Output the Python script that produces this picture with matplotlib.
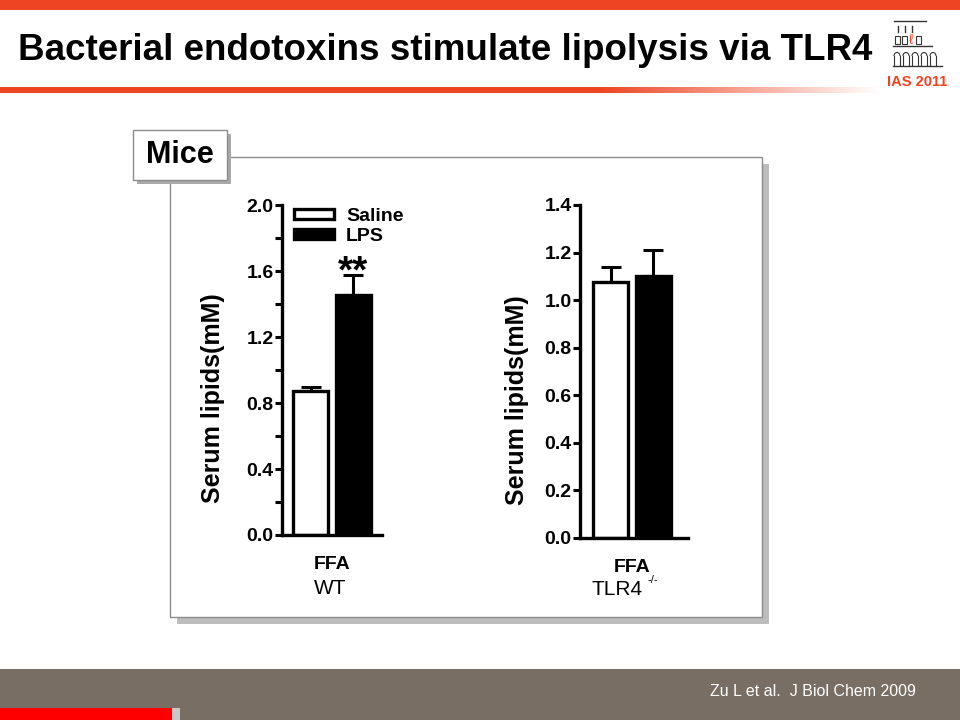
import matplotlib.pyplot as plt
import numpy as np
from matplotlib import font_manager
from matplotlib.patches import Rectangle, Arc
from matplotlib.ticker import MultipleLocator

plt.rcParams['font.family'] = ['Liberation Sans', 'DejaVu Sans']

# values
groups = ['Saline', 'LPS']
wt_mean = [0.875, 1.455]
wt_err = [0.025, 0.12]
tlr4_mean = [1.075, 1.10]
tlr4_err = [0.065, 0.11]
fills = ['white', 'black']

title = 'Bacterial endotoxins stimulate lipolysis via TLR4'
citation = 'Zu L et al.  J Biol Chem 2009'

RED = '#EE4423'
INK = '#333333'

installed = {f.name for f in font_manager.fontManager.ttflist}
has_narrow = 'Liberation Sans Narrow' in installed

fig = plt.figure(figsize=(9.6, 7.2), dpi=100)

# background layer in pixel coordinates for the slide decorations
bg = fig.add_axes([0, 0, 1, 1])
bg.axis('off')

bg.add_patch(Rectangle((0, 0), 960, 10, color=RED, lw=0))
# lower header rule fading out to the right
grad = np.ones((1, 960, 4))
grad[..., 0], grad[..., 1], grad[..., 2] = 0.933, 0.267, 0.137
grad[0, :, 3] = np.clip((880 - np.arange(960)) / 280.0, 0, 1)
bg.imshow(grad, extent=(0, 960, 93, 87), aspect='auto', zorder=1)
bg.set_xlim(0, 960)
bg.set_ylim(720, 0)

bg.text(18, 51, title, fontsize=26.5, fontweight='bold', va='center', ha='left')

# small IAS 2011 logo (building with arches)
bg.plot([894, 926], [21, 21], color=INK, lw=1)
bg.plot([893, 932], [46, 46], color=INK, lw=1)
bg.plot([893, 942], [66, 66], color=INK, lw=1)
for x in [898, 905, 912]:
    bg.plot([x, x], [26, 32], color=INK, lw=1)
for x in [897, 904, 918]:
    bg.add_patch(Rectangle((x - 2.5, 36), 5, 8, fill=False, edgecolor=INK, lw=0.8))
bg.text(911, 40, 'ℓ', color=RED, fontsize=10, ha='center', va='center')
for x in [897, 906, 915, 924, 933]:
    bg.plot([x - 3, x - 3], [56, 65], color=INK, lw=0.8)
    bg.plot([x + 3, x + 3], [56, 65], color=INK, lw=0.8)
    bg.add_patch(Arc((x, 56), 6, 7, theta1=180, theta2=360, color=INK, lw=0.8))
bg.text(917, 82, 'IAS 2011', color=RED, fontsize=10.5, fontweight='bold',
        ha='center', va='center')

# footer
bg.add_patch(Rectangle((0, 669), 960, 51, color='#786E64', lw=0))
bg.add_patch(Rectangle((0, 708), 172, 12, color='#FF0000', lw=0))
bg.add_patch(Rectangle((172, 708), 8, 12, color='#C8C8C8', lw=0))
if has_narrow:
    bg.text(916, 691, citation, color='white', fontsize=13.5, ha='right', va='center',
            family=['Liberation Sans Narrow', 'DejaVu Sans'])
else:
    bg.text(916, 691, citation, color='white', fontsize=11.5, ha='right', va='center')

# panel frame with shadow
bg.add_patch(Rectangle((177, 164), 592, 460, color='#BDBDBD', lw=0))
bg.add_patch(Rectangle((170, 157), 592, 460, facecolor='white', edgecolor='#8C8C8C', lw=1))
bg.add_patch(Rectangle((137, 134), 94, 50, color='#A8A8A8', lw=0))
bg.add_patch(Rectangle((133, 130), 94, 50, facecolor='white', edgecolor='#8C8C8C', lw=1))
bg.text(180, 155, 'Mice', fontsize=22, fontweight='bold', ha='center', va='center')


def bar_panel(rect, means, errs, ymax, major, minor, xlim):
    ax = fig.add_axes(rect)
    x = np.arange(len(means))
    ax.bar(x, means, width=0.82, color=fills, edgecolor='black', linewidth=2.4,
           label=groups, zorder=2)
    ax.errorbar(x, means, yerr=[np.zeros(len(errs)), errs], fmt='none',
                ecolor='black', elinewidth=2.2, capsize=7, capthick=2.2, zorder=1)
    ax.set_xlim(*xlim)
    ax.set_ylim(0, ymax)
    ax.yaxis.set_major_locator(MultipleLocator(major))
    if minor:
        ax.yaxis.set_minor_locator(MultipleLocator(minor))
    ax.yaxis.set_major_formatter(lambda v, p: '{:.1f}'.format(v))
    for s in ['top', 'right']:
        ax.spines[s].set_visible(False)
    for s in ['left', 'bottom']:
        ax.spines[s].set_linewidth(2.4)
    ax.tick_params(axis='y', which='both', direction='out', length=5, width=2.2,
                   labelsize=14, pad=1)
    for lab in ax.get_yticklabels():
        lab.set_fontweight('bold')
    ax.set_xticks([0.5])
    ax.set_xticklabels(['FFA'], fontsize=14, fontweight='bold')
    ax.tick_params(axis='x', length=0, pad=15)
    ax.set_ylabel('Serum lipids(mM)', fontsize=18, fontweight='bold')
    ax.patch.set_alpha(0)
    return ax


ax1 = bar_panel([0.2938, 0.257, 0.1042, 0.458], wt_mean, wt_err, 2.0, 0.4, 0.2, (-0.67, 1.68))
ax1.yaxis.set_label_coords(-0.57, 0.415)
ax1.set_xlabel('WT', fontsize=15)
ax1.xaxis.set_label_coords(0.48, -0.135)
ax1.text(1, 1.53, '**', fontsize=28, fontweight='bold', ha='center', va='baseline')
ax1.legend(loc='upper left', bbox_to_anchor=(-0.06, 1.045), frameon=False,
           handlelength=2.1, handleheight=0.4, handletextpad=0.6, labelspacing=0.15,
           prop={'weight': 'bold', 'size': 14})

ax2 = bar_panel([0.6042, 0.2528, 0.1125, 0.4625], tlr4_mean, tlr4_err, 1.4, 0.2, None, (-0.72, 1.82))
ax2.yaxis.set_label_coords(-0.47, 0.414)
ax2.set_xlabel('TLR4', fontsize=15)
ax2.xaxis.set_label_coords(0.34, -0.126)
ax2.annotate('-/-', xy=(1, 0.75), xycoords=ax2.xaxis.label, xytext=(4, 0),
             textcoords='offset points', fontsize=8, va='bottom', ha='left')

fig.savefig('out.png', dpi=100)
